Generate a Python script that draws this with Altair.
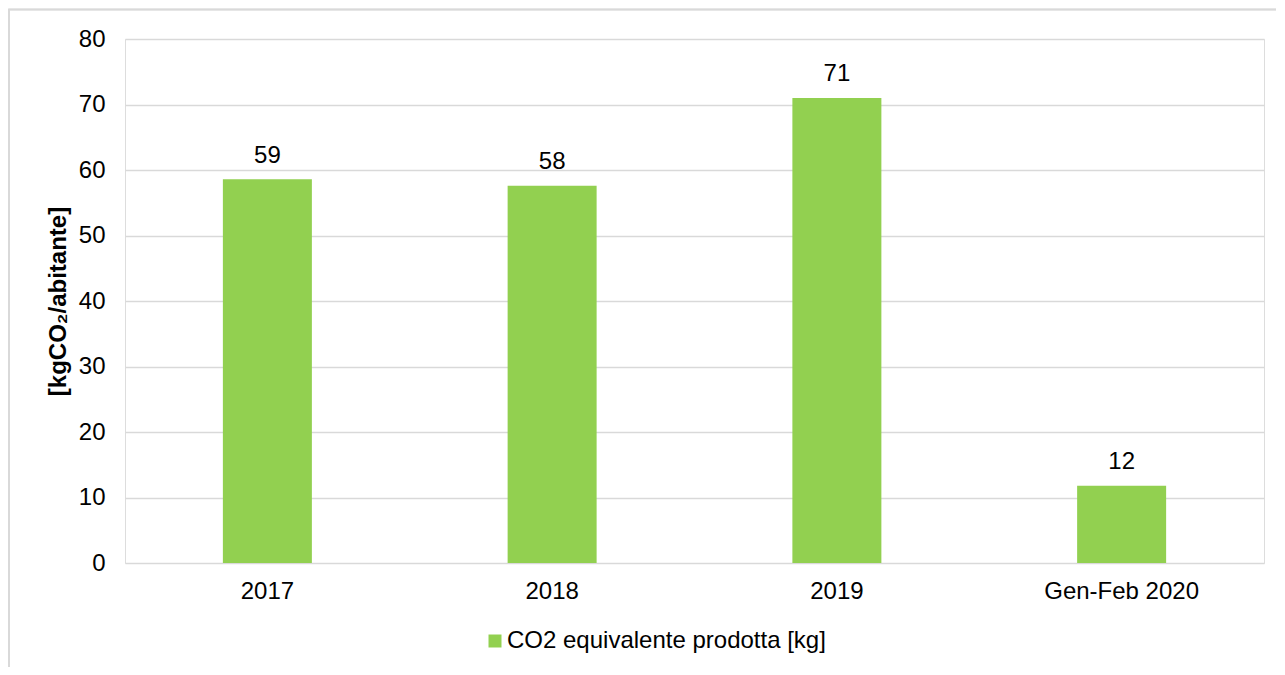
import altair as alt
import pandas as pd

categories = ["2017", "2018", "2019", "Gen-Feb 2020"]
values = [58.6, 57.6, 71.0, 11.8]
series_name = "CO2 equivalente prodotta [kg]"

df = pd.DataFrame({"periodo": categories, "valore": values, "serie": [series_name] * len(categories)})

W, H = 1139, 524
FONT = "Liberation Sans"
GREEN = "#92D050"
GRID = "#d9d9d9"

base = alt.Chart(df)

frame = base.mark_rect(fill=None, stroke=GRID, strokeWidth=1.3).encode(
    x=alt.value(-116), x2=alt.value(W + 200),
    y=alt.value(-29.5), y2=alt.value(H + 300),
)

bars = base.mark_bar(size=89, color=GREEN).encode(
    x=alt.X("periodo:N", sort=categories, title=None,
            axis=alt.Axis(labelAngle=0, labelFontSize=24, labelFont=FONT, labelColor="#000000",
                          domain=False, ticks=False, labelPadding=16)),
    y=alt.Y("valore:Q", scale=alt.Scale(domain=[0, 80]), title="[kgCO₂/abitante]",
            axis=alt.Axis(values=[0, 10, 20, 30, 40, 50, 60, 70, 80], labelFontSize=24, labelFont=FONT,
                          labelColor="#000000", domain=False, ticks=False, labelPadding=20,
                          gridColor=GRID, gridWidth=1.3,
                          titleFontSize=24, titleFont=FONT, titleFontWeight="bold",
                          titleColor="#000000", titlePadding=8)),
    color=alt.Color("serie:N", scale=alt.Scale(range=[GREEN]),
                    legend=alt.Legend(title=None, orient="none", legendX=358, legendY=590,
                                      symbolType="square", symbolSize=169, symbolStrokeWidth=0,
                                      labelFontSize=24, labelFont=FONT, labelColor="#000000",
                                      labelOffset=0, padding=0, labelLimit=600)),
)

labels = base.mark_text(fontSize=24, font=FONT, color="#000000", baseline="alphabetic", dy=-16.5).encode(
    x=alt.X("periodo:N", sort=categories),
    y=alt.Y("valore:Q"),
    text=alt.Text("valore:Q", format=".0f"),
)

chart = alt.layer(frame, bars, labels).properties(
    width=W, height=H,
    autosize=alt.AutoSizeParams(type="none"),
    padding={"left": 117, "top": 31, "right": 12, "bottom": 104},
).configure_view(stroke=None).configure(background="white")

chart.save("out.html", embed_options={"renderer": "svg", "actions": False})
